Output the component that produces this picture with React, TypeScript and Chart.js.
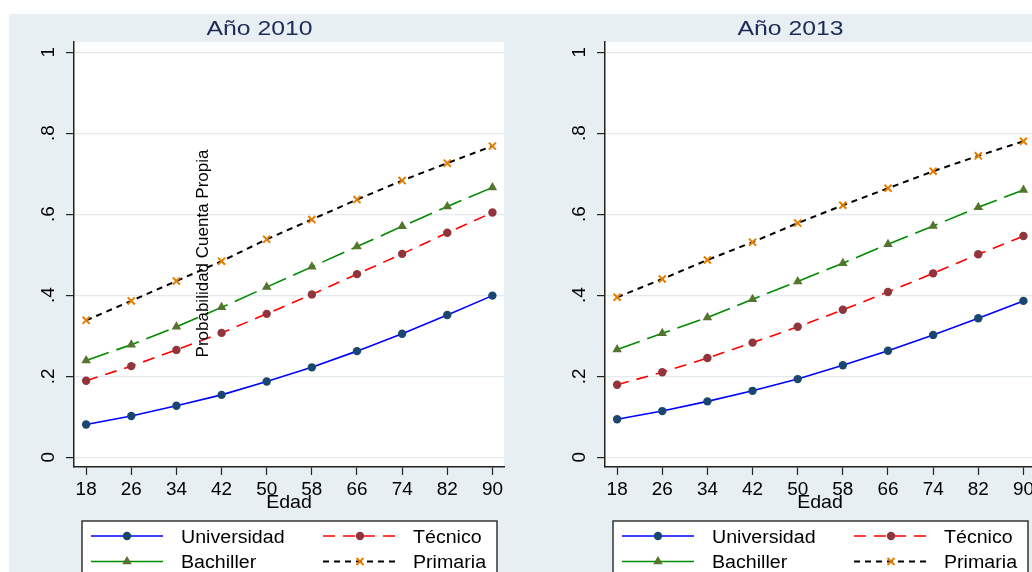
import React, { useEffect, useRef } from "react";
import { Chart, registerables } from "chart.js";

Chart.register(...registerables);

// ---------- data ----------
const ages = [18, 26, 34, 42, 50, 58, 66, 74, 82, 90];
const yTickValues = [0, 0.2, 0.4, 0.6, 0.8, 1];
const yTickLabels = ["0", ".2", ".4", ".6", ".8", "1"];
const seriesNames = ["Universidad", "Técnico", "Bachiller", "Primaria"];
const panelTitles = ["Año 2010", "Año 2013"];
const xTitle = "Edad";
const yTitle = "Probabilidad Cuenta Propia";

const univ2010 = [0.081, 0.102, 0.127, 0.154, 0.187, 0.222, 0.262, 0.305, 0.351, 0.399];
const tec2010 = [0.189, 0.225, 0.265, 0.307, 0.354, 0.402, 0.452, 0.502, 0.554, 0.604];
const bach2010 = [0.239, 0.278, 0.322, 0.37, 0.42, 0.47, 0.52, 0.57, 0.619, 0.666];
const prim2010 = [0.338, 0.386, 0.435, 0.484, 0.538, 0.587, 0.636, 0.683, 0.726, 0.768];

const univ2013 = [0.094, 0.114, 0.138, 0.164, 0.193, 0.227, 0.263, 0.302, 0.343, 0.386];
const tec2013 = [0.179, 0.21, 0.245, 0.283, 0.322, 0.364, 0.408, 0.454, 0.501, 0.546];
const bach2013 = [0.266, 0.306, 0.345, 0.39, 0.434, 0.479, 0.526, 0.571, 0.617, 0.66];
const prim2013 = [0.395, 0.44, 0.487, 0.531, 0.578, 0.622, 0.664, 0.706, 0.744, 0.78];

// ---------- styles ----------
const FONT = '"Liberation Sans", Arial, Helvetica, sans-serif';
const BG = "#e8eff2";
const GRID = "#e2eaed";
const AXIS = "#222222";
const TITLE_COLOR = "#1c2b58";

const styles = [
  { line: "#0000ff", lw: 1.6, dash: [] as number[], legDash: [] as number[], ps: "circle", pc: "#1a476f", r: 4.2, pbw: 0 },
  { line: "#ff0000", lw: 1.6, dash: [12, 8], legDash: [12, 8], ps: "circle", pc: "#90353b", r: 4.2, pbw: 0 },
  { line: "#008a00", lw: 1.6, dash: [24, 8], legDash: [] as number[], ps: "triangle", pc: "#55752f", r: 5.5, pbw: 0 },
  { line: "#000000", lw: 2, dash: [6, 5], legDash: [6, 5], ps: "crossRot", pc: "#e37e00", r: 5, pbw: 2 },
];

function txt(
  ctx: CanvasRenderingContext2D,
  s: string,
  x: number,
  y: number,
  size: number,
  sx: number,
  align: CanvasTextAlign,
  baseline: CanvasTextBaseline,
  color: string,
  rot = 0
) {
  ctx.save();
  ctx.translate(x, y);
  if (rot) ctx.rotate(rot);
  ctx.scale(sx, 1);
  ctx.font = `${size}px ${FONT}`;
  ctx.fillStyle = color;
  ctx.textAlign = align;
  ctx.textBaseline = baseline;
  ctx.fillText(s, 0, 0);
  ctx.restore();
}

function marker(ctx: CanvasRenderingContext2D, st: any, x: number, y: number) {
  ctx.save();
  ctx.fillStyle = st.pc;
  ctx.strokeStyle = st.pc;
  ctx.setLineDash([]);
  const r = st.r;
  if (st.ps === "circle") {
    ctx.beginPath();
    ctx.arc(x, y, r, 0, Math.PI * 2);
    ctx.fill();
  } else if (st.ps === "triangle") {
    ctx.beginPath();
    ctx.moveTo(x, y - r);
    ctx.lineTo(x + 0.866 * r, y + 0.5 * r);
    ctx.lineTo(x - 0.866 * r, y + 0.5 * r);
    ctx.closePath();
    ctx.fill();
  } else {
    const d = r * 0.7071;
    ctx.lineWidth = st.pbw;
    ctx.beginPath();
    ctx.moveTo(x - d, y - d);
    ctx.lineTo(x + d, y + d);
    ctx.moveTo(x - d, y + d);
    ctx.lineTo(x + d, y - d);
    ctx.stroke();
  }
  ctx.restore();
}

type PanelProps = {
  title: string;
  series: number[][];
  width: number;
  height: number;
  yAxisWidth: number;
  padRight: number;
  showYTitle: boolean;
};

function Panel(props: PanelProps) {
  const ref = useRef<HTMLCanvasElement | null>(null);
  useEffect(() => {
    const canvas = ref.current;
    if (!canvas) return;
    const { title, series, yAxisWidth, padRight, showYTitle } = props;

    const datasets = series.map((vals, i) => ({
      label: seriesNames[i],
      data: ages.map((a, j) => ({ x: a, y: vals[j] })),
      borderColor: styles[i].line,
      borderWidth: styles[i].lw,
      borderDash: styles[i].dash,
      pointStyle: styles[i].ps,
      pointRadius: styles[i].r,
      pointBackgroundColor: styles[i].pc,
      pointBorderColor: styles[i].pc,
      pointBorderWidth: styles[i].pbw,
      fill: false,
      tension: 0,
    }));

    const deco = {
      id: "deco",
      beforeDraw(chart: any) {
        const { ctx, chartArea: ca } = chart;
        ctx.save();
        ctx.fillStyle = "#ffffff";
        ctx.fillRect(ca.left, ca.top, ca.right - ca.left, ca.bottom - ca.top);
        ctx.restore();
      },
      afterDraw(chart: any) {
        const { ctx, chartArea: ca } = chart;
        const xs = chart.scales.x;
        const ys = chart.scales.y;
        const cx = (ca.left + ca.right) / 2;
        // panel title
        txt(ctx, title, cx - 29.5, 21, 21, 1.18, "center", "alphabetic", TITLE_COLOR);
        // y tick labels (rotated)
        yTickValues.forEach((v, i) => {
          const py = ys.getPixelForValue(v);
          txt(ctx, yTickLabels[i], ca.left - 20, py, 18, 1.05, "center", "alphabetic", "#000", -Math.PI / 2);
        });
        // x tick labels
        ages.forEach((a) => {
          const px = xs.getPixelForValue(a);
          txt(ctx, String(a), px, 480.5, 18, 1.05, "center", "alphabetic", "#000");
        });
        // x title
        txt(ctx, xTitle, cx, 494, 19, 1.03, "center", "alphabetic", "#000");
        // y title (only drawn in first panel, Stata-style overlap)
        if (showYTitle) {
          txt(ctx, yTitle, 199, 239.5, 17, 1, "center", "alphabetic", "#000", -Math.PI / 2);
        }
        // legend
        const L = ca.left;
        ctx.save();
        ctx.fillStyle = "#ffffff";
        ctx.fillRect(L + 8, 507, 415, 80);
        ctx.strokeStyle = "#333";
        ctx.lineWidth = 1.5;
        ctx.strokeRect(L + 8, 507, 415, 80);
        ctx.restore();
        const rows = [522, 547.5];
        const cols = [
          { x0: L + 17, x1: L + 89, tx: L + 107 },
          { x0: L + 249, x1: L + 323, tx: L + 339 },
        ];
        const order = [0, 1, 2, 3];
        order.forEach((si, k) => {
          const row = Math.floor(k / 2);
          const col = k % 2;
          const st = styles[si];
          const y = rows[row];
          const c = cols[col];
          ctx.save();
          ctx.strokeStyle = st.line;
          ctx.lineWidth = st.lw;
          ctx.setLineDash(st.legDash);
          ctx.beginPath();
          ctx.moveTo(c.x0, y);
          ctx.lineTo(c.x1, y);
          ctx.stroke();
          ctx.restore();
          marker(ctx, st, (c.x0 + c.x1) / 2, y);
          txt(ctx, seriesNames[si], c.tx, y + 6.5, 18, 1.09, "left", "alphabetic", "#000");
        });
      },
    };

    const chart = new Chart(canvas, {
      type: "line",
      data: { datasets },
      options: {
        animation: false,
        responsive: false,
        events: [],
        layout: { padding: { top: 28, right: padRight, left: 0, bottom: 0 } },
        plugins: {
          legend: { display: false },
          title: { display: false },
          tooltip: { enabled: false },
        },
        scales: {
          x: {
            type: "linear",
            min: 15.85,
            max: 92.05,
            afterBuildTicks: (s: any) => {
              s.ticks = ages.map((v) => ({ value: v }));
            },
            afterFit: (s: any) => {
              s.height = 105;
            },
            ticks: { display: false },
            grid: {
              drawOnChartArea: false,
              drawTicks: true,
              tickLength: 8,
              tickColor: AXIS,
              tickWidth: 1.2,
            },
            border: { display: true, color: AXIS, width: 1.5 },
          },
          y: {
            type: "linear",
            min: -0.024,
            max: 1.025,
            afterBuildTicks: (s: any) => {
              s.ticks = yTickValues.map((v) => ({ value: v }));
            },
            afterFit: (s: any) => {
              s.width = yAxisWidth;
            },
            ticks: { display: false },
            grid: {
              color: GRID,
              lineWidth: 1.2,
              drawTicks: true,
              tickLength: 8,
              tickColor: AXIS,
              tickWidth: 1.2,
            },
            border: { display: true, color: AXIS, width: 1.5 },
          },
        },
      },
      plugins: [deco],
    } as any);
    return () => chart.destroy();
  }, []);
  return (
    <canvas
      ref={ref}
      width={props.width}
      height={props.height}
      style={{ display: "block", width: props.width, height: props.height }}
    />
  );
}

export default function App() {
  return (
    <div
      style={{
        position: "fixed",
        left: 0,
        top: 0,
        width: 1032,
        height: 572,
        overflow: "hidden",
        background: "#ffffff",
      }}
    >
      <div style={{ position: "absolute", left: 9, top: 14, right: 0, bottom: 0, background: BG }} />
      <div style={{ position: "absolute", left: 9, top: 14 }}>
        <Panel
          title={panelTitles[0]}
          series={[univ2010, tec2010, bach2010, prim2010]}
          width={511}
          height={558}
          yAxisWidth={65}
          padRight={16}
          showYTitle={true}
        />
      </div>
      <div style={{ position: "absolute", left: 520, top: 14 }}>
        <Panel
          title={panelTitles[1]}
          series={[univ2013, tec2013, bach2013, prim2013]}
          width={530}
          height={558}
          yAxisWidth={85}
          padRight={15}
          showYTitle={false}
        />
      </div>
    </div>
  );
}
